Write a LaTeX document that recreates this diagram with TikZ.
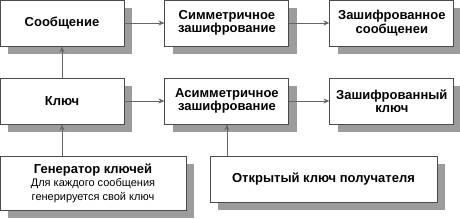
\documentclass[tikz,border=0pt]{standalone}
\usepackage{fontspec}
\setmainfont{Liberation Sans}
\usepackage{xcolor}
\usepackage{tikz}
\usetikzlibrary{arrows.meta,positioning,shadows}
\definecolor{crInk}{HTML}{000000}
\definecolor{crFrame}{HTML}{4A4A4A}
\definecolor{crShadow}{HTML}{9C9C9C}
\definecolor{crLine}{HTML}{666666}
\newcommand{\crnote}{\mdseries\fontsize{11}{12}\selectfont}
\tikzset{
  cr diagram/.style={font=\bfseries\fontsize{13}{13.5}\selectfont, text=crInk,
    x=1pt, y=-1pt},
  cr box/.style={draw=crFrame, fill=white, line width=0.9pt,
    align=center, inner sep=2pt, minimum width=124pt, minimum height=46pt,
    drop shadow={shadow xshift=8pt, shadow yshift=-8pt, fill=crShadow, opacity=1}},
  cr arrow/.style={-{Stealth[length=6pt, width=5pt]}, draw=crLine, line width=0.8pt}
}

\begin{document}
\begin{tikzpicture}[cr diagram]
\useasboundingbox (0,0) rectangle (460,219);
% top row
\node[cr box] (msg) at (62,23) {Сообщение};
\node[cr box, right=40pt of msg] (sym) {Симметричное\\зашифрование};
\node[cr box, right=40pt of sym] (encmsg) {Зашифрованное\\сообщенеи};
% middle row
\node[cr box] (key) at (62,101) {Ключ};
\node[cr box, right=40pt of key] (asym) {Асимметричное\\зашифрование};
\node[cr box, right=40pt of asym] (enckey) {Зашифрованный\\ключ};
% bottom row
\node[cr box, minimum width=186pt, minimum height=54pt] (gen) at (93,183)
  {Генератор ключей\\{\crnote Для каждого сообщения}\\{\crnote генерируется свой ключ}};
\node[cr box, minimum width=227pt] (pub) at (323.5,179) {Открытый ключ получателя};
% connectors
\draw[cr arrow] (msg) -- (sym);
\draw[cr arrow] (sym) -- (encmsg);
\draw[cr arrow] (key) -- (asym);
\draw[cr arrow] (asym) -- (enckey);
\draw[cr arrow] (key) -- (msg);
\draw[cr arrow] (gen.north -| key.south) -- (key.south);
\draw[cr arrow] (pub.north -| asym.south) -- (asym.south);
\end{tikzpicture}
\end{document}
